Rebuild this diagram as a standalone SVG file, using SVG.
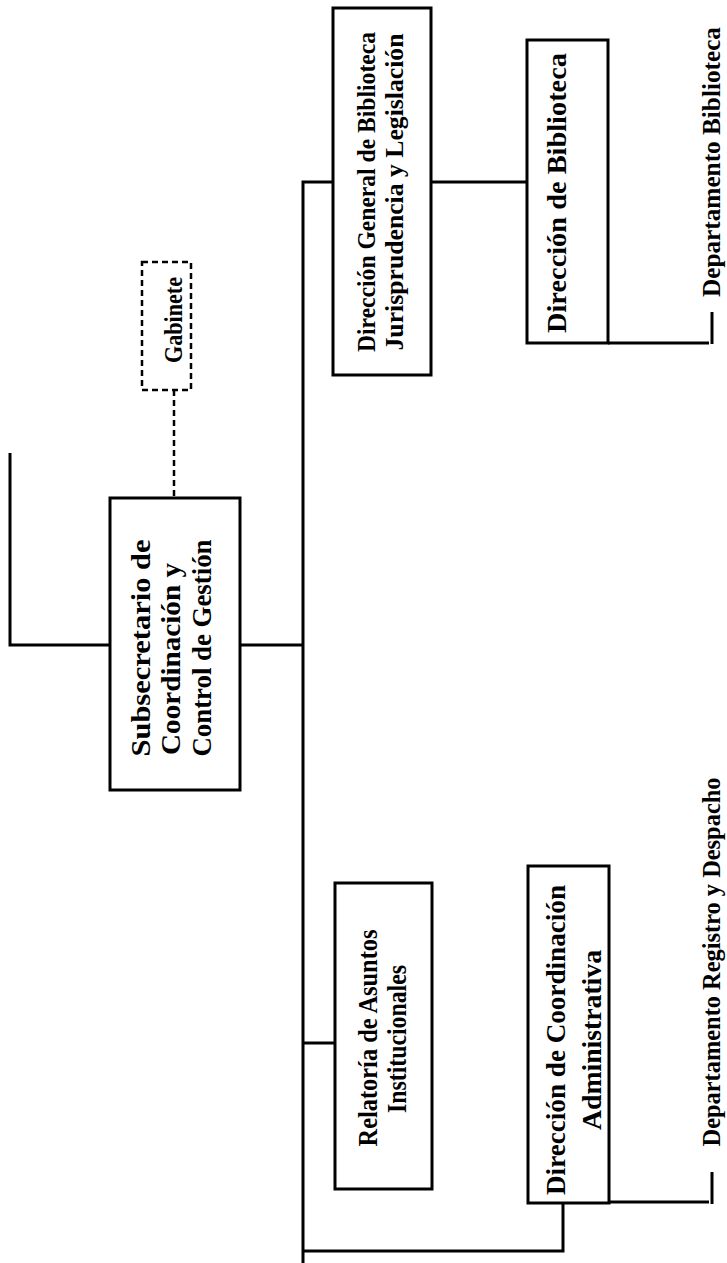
<svg xmlns="http://www.w3.org/2000/svg" width="727" height="1263" viewBox="0 0 727 1263">
<style>
.box{fill:#fff;stroke:#000;stroke-width:3}
.dbox{fill:#fff;stroke:#000;stroke-width:2.5;stroke-dasharray:6 4}
.ln{fill:none;stroke:#000;stroke-width:3}
.dln{fill:none;stroke:#000;stroke-width:2.5;stroke-dasharray:6 4}
text{font-family:"Liberation Serif","Times New Roman",serif;font-weight:bold;font-size:28px;fill:#000;text-anchor:middle}
.g{font-size:25px}
.d{font-size:26px}
.s{font-size:25px}
</style>
<rect width="727" height="1263" fill="#fff"/>
<g id="connectors">
<path class="ln" d="M10,453 V645 H110"/>
<path class="ln" d="M240,645 H303"/>
<path class="dln" d="M174,390 V498"/>
<path class="ln" d="M333,182 H303 V1263"/>
<path class="ln" d="M303,1043 H335"/>
<path class="ln" d="M431,182 H527"/>
<path class="ln" d="M608,343 H709"/>
<path class="ln" d="M712,312 V344"/>
<path class="ln" d="M608,1202 H709"/>
<path class="ln" d="M712,1172 V1204"/>
<path class="ln" d="M303,1251 H563 V1203"/>
</g>
<g id="gabinete">
<rect class="dbox" x="142" y="262" width="49" height="128"/>
<text class="g" transform="translate(182,320) rotate(-90)" textLength="86" lengthAdjust="spacingAndGlyphs">Gabinete</text>
</g>
<g id="subsecretario">
<rect class="box" x="110" y="498" width="130" height="292"/>
<text transform="translate(150,648) rotate(-90)" textLength="217" lengthAdjust="spacingAndGlyphs">Subsecretario de</text>
<text transform="translate(180,659) rotate(-90)" textLength="192" lengthAdjust="spacingAndGlyphs">Coordinación y</text>
<text transform="translate(211,648) rotate(-90)" textLength="217" lengthAdjust="spacingAndGlyphs">Control de Gestión</text>
</g>
<g id="direccion-general">
<rect class="box" x="333" y="8" width="98" height="367"/>
<text class="s" transform="translate(375,192) rotate(-90)" textLength="320" lengthAdjust="spacingAndGlyphs">Dirección General de Biblioteca</text>
<text class="s" transform="translate(403,192) rotate(-90)" textLength="317" lengthAdjust="spacingAndGlyphs">Jurisprudencia y Legislación</text>
</g>
<g id="direccion-biblioteca">
<rect class="box" x="527" y="40" width="81" height="303"/>
<text transform="translate(566,193) rotate(-90)" textLength="280" lengthAdjust="spacingAndGlyphs">Dirección de Biblioteca</text>
</g>
<g id="departamento-biblioteca">
<text class="d" transform="translate(720,162) rotate(-90)" textLength="270" lengthAdjust="spacingAndGlyphs">Departamento Biblioteca</text>
</g>
<g id="relatoria">
<rect class="box" x="335" y="883" width="97" height="306"/>
<text transform="translate(377,1038) rotate(-90)" textLength="217" lengthAdjust="spacingAndGlyphs">Relatoría de Asuntos</text>
<text transform="translate(406,1039) rotate(-90)" textLength="148" lengthAdjust="spacingAndGlyphs">Institucionales</text>
</g>
<g id="direccion-coordinacion">
<rect class="box" x="528" y="866" width="81" height="337"/>
<text transform="translate(565,1040) rotate(-90)" textLength="310" lengthAdjust="spacingAndGlyphs">Dirección de Coordinación</text>
<text transform="translate(601,1040) rotate(-90)" textLength="180" lengthAdjust="spacingAndGlyphs">Administrativa</text>
</g>
<g id="departamento-registro">
<text class="d" transform="translate(720,962) rotate(-90)" textLength="369" lengthAdjust="spacingAndGlyphs">Departamento Registro y Despacho</text>
</g>
</svg>
